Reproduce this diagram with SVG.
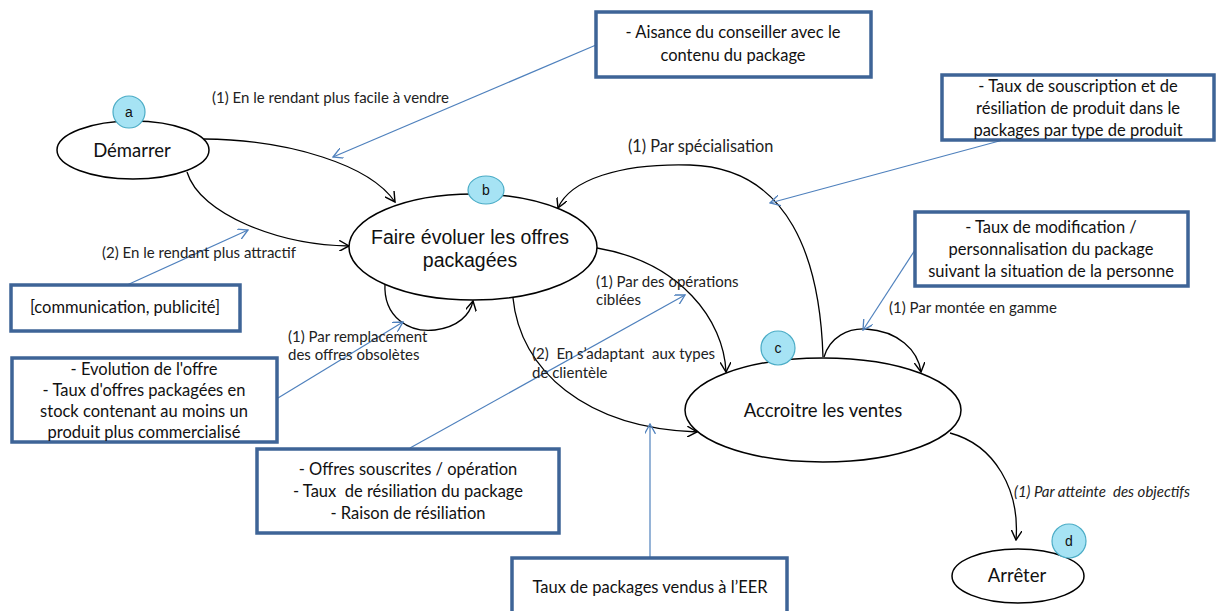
<svg xmlns="http://www.w3.org/2000/svg" width="1218" height="611" viewBox="0 0 1218 611">
<style>
.st{fill:#fff;stroke:#000;stroke-width:1.5}
.bx{fill:#fff;stroke:#3E6497;stroke-width:3.5}
.lbl{font-family:Lato,"Liberation Sans",sans-serif;font-size:15px;fill:#222}
.bt{font-family:Lato,"Liberation Sans",sans-serif;font-size:16.5px;fill:#111;text-anchor:middle}
.nt{font-family:Lato,"Liberation Sans",sans-serif;font-size:18.5px;fill:#111;text-anchor:middle}
.big{font-family:"Liberation Sans",Arial,sans-serif;font-size:19.5px;fill:#111;text-anchor:middle}
.tag{fill:#A6E3F4;stroke:#4BACC6;stroke-width:1.2}
.tt{font-family:"Liberation Sans",Arial,sans-serif;font-size:14px;fill:#111;text-anchor:middle}
.ed{fill:none;stroke:#000;stroke-width:1.3;marker-end:url(#ab)}
.bl{fill:none;stroke:#4F81BD;stroke-width:1.2;marker-end:url(#ablue)}
</style>
<defs>
<marker id="ab" viewBox="0 0 10 10" refX="9" refY="5" markerWidth="11" markerHeight="11" markerUnits="userSpaceOnUse" orient="auto"><path d="M0,0 L9,5 L0,10" fill="none" stroke="#000" stroke-width="1.3"/></marker>
<marker id="ablue" viewBox="0 0 10 10" refX="9" refY="5" markerWidth="11" markerHeight="11" markerUnits="userSpaceOnUse" orient="auto"><path d="M0,0 L9,5 L0,10" fill="none" stroke="#4F81BD" stroke-width="1.2"/></marker>
</defs>
<rect width="1218" height="611" fill="#fff"/>

<g id="connectors">
<path class="ed" d="M204,139 C290,140 370,165 395,202"/>
<path class="ed" d="M187,172 C200,215 280,245 349,246"/>
<path class="ed" d="M385,283 C383,318 410,333 435,330 C458,327 470,315 473,301"/>
<path class="ed" d="M597,248 C680,262 724,320 726,372"/>
<path class="ed" d="M513,298 C520,370 585,428 697,432"/>
<path class="ed" d="M823,357 C820,260 790,168 690,165 C620,163 570,180 558,208"/>
<path class="ed" d="M824,357 C830,337 848,328 866,329 C898,331 918,350 921,372"/>
<path class="ed" d="M950,433 C995,445 1020,490 1016,540"/>

<path class="bl" d="M596,45 L333,157"/>
<path class="bl" d="M1003,140 L770,203"/>
<path class="bl" d="M915,250 L863,330"/>
<path class="bl" d="M127,285 L248,230"/>
<path class="bl" d="M278,398 L403,322"/>
<path class="bl" d="M410,448 L685,295"/>
<path class="bl" d="M650,558 L650,424"/>

<text class="lbl" x="212" y="103">(1) En le rendant plus facile à vendre</text>
<text class="lbl" x="102" y="258">(2) En le rendant plus attractif</text>
<text class="lbl" x="288" y="342">(1) Par remplacement</text>
<text class="lbl" x="288" y="360">des offres obsolètes</text>
<text class="lbl" x="596" y="287">(1) Par des opérations</text>
<text class="lbl" x="596" y="305">ciblées</text>
<text class="lbl" x="532" y="359" xml:space="preserve">(2)  En s’adaptant  aux types</text>
<text class="lbl" x="532" y="378">de clientèle</text>
<text class="lbl" x="628" y="152" style="font-size:16.3px">(1) Par spécialisation</text>
<text class="lbl" x="889" y="313">(1) Par montée en gamme</text>
<text class="lbl" x="1014" y="497" font-style="italic" xml:space="preserve">(1) Par atteinte  des objectifs</text>
</g>

<g id="node-a">
<ellipse class="st" cx="133" cy="150" rx="76" ry="29"/>
<text class="nt" x="132" y="157">Démarrer</text>
<circle class="tag" cx="129" cy="112" r="16"/>
<text class="tt" x="129" y="117">a</text>
</g>

<g id="node-b">
<ellipse class="st" cx="473" cy="247" rx="124" ry="53"/>
<text class="big" x="470" y="244">Faire évoluer les offres</text>
<text class="big" x="470" y="267">packagées</text>
<ellipse class="tag" cx="486" cy="190" rx="18" ry="14"/>
<text class="tt" x="486" y="195">b</text>
</g>

<g id="node-c">
<ellipse class="st" cx="823" cy="410" rx="138" ry="52"/>
<text class="nt" x="823" y="417">Accroitre les ventes</text>
<circle class="tag" cx="778" cy="348" r="17"/>
<text class="tt" x="778" y="353">c</text>
</g>

<g id="node-d">
<ellipse class="st" cx="1018" cy="576" rx="66" ry="27"/>
<text class="nt" x="1017" y="582">Arrêter</text>
<circle class="tag" cx="1069" cy="541" r="17"/>
<text class="tt" x="1069" y="546">d</text>
</g>

<g id="box-aisance">
<rect class="bx" x="596" y="12" width="275" height="65"/>
<text class="bt" x="733" y="38">- Aisance du conseiller avec le</text>
<text class="bt" x="733" y="61">contenu du package</text>
</g>

<g id="box-souscription">
<rect class="bx" x="942" y="75" width="272" height="65"/>
<text class="bt" x="1078" y="92">- Taux de souscription et de</text>
<text class="bt" x="1078" y="114">résiliation de produit dans le</text>
<text class="bt" x="1078" y="136">packages par type de produit</text>
</g>

<g id="box-modification">
<rect class="bx" x="915" y="212" width="273" height="74"/>
<text class="bt" x="1051" y="233">- Taux de modification /</text>
<text class="bt" x="1051" y="255">personnalisation du package</text>
<text class="bt" x="1051" y="277">suivant la situation de la personne</text>
</g>

<g id="box-communication">
<rect class="bx" x="11" y="285" width="229" height="46"/>
<text class="bt" x="125" y="313">[communication, publicité]</text>
</g>

<g id="box-evolution">
<rect class="bx" x="12" y="358" width="265" height="84"/>
<text class="bt" x="144" y="375">- Evolution de l'offre</text>
<text class="bt" x="144" y="396">- Taux d'offres packagées en</text>
<text class="bt" x="144" y="417">stock contenant au moins un</text>
<text class="bt" x="144" y="438">produit plus commercialisé</text>
</g>

<g id="box-offres">
<rect class="bx" x="257" y="449" width="302" height="84"/>
<text class="bt" x="408" y="475">- Offres souscrites / opération</text>
<text class="bt" x="408" y="497" xml:space="preserve">- Taux  de résiliation du package</text>
<text class="bt" x="408" y="519">- Raison de résiliation</text>
</g>

<g id="box-eer">
<rect class="bx" x="512" y="558" width="275" height="60"/>
<text class="bt" x="650" y="593">Taux de packages vendus à l’EER</text>
</g>
</svg>
